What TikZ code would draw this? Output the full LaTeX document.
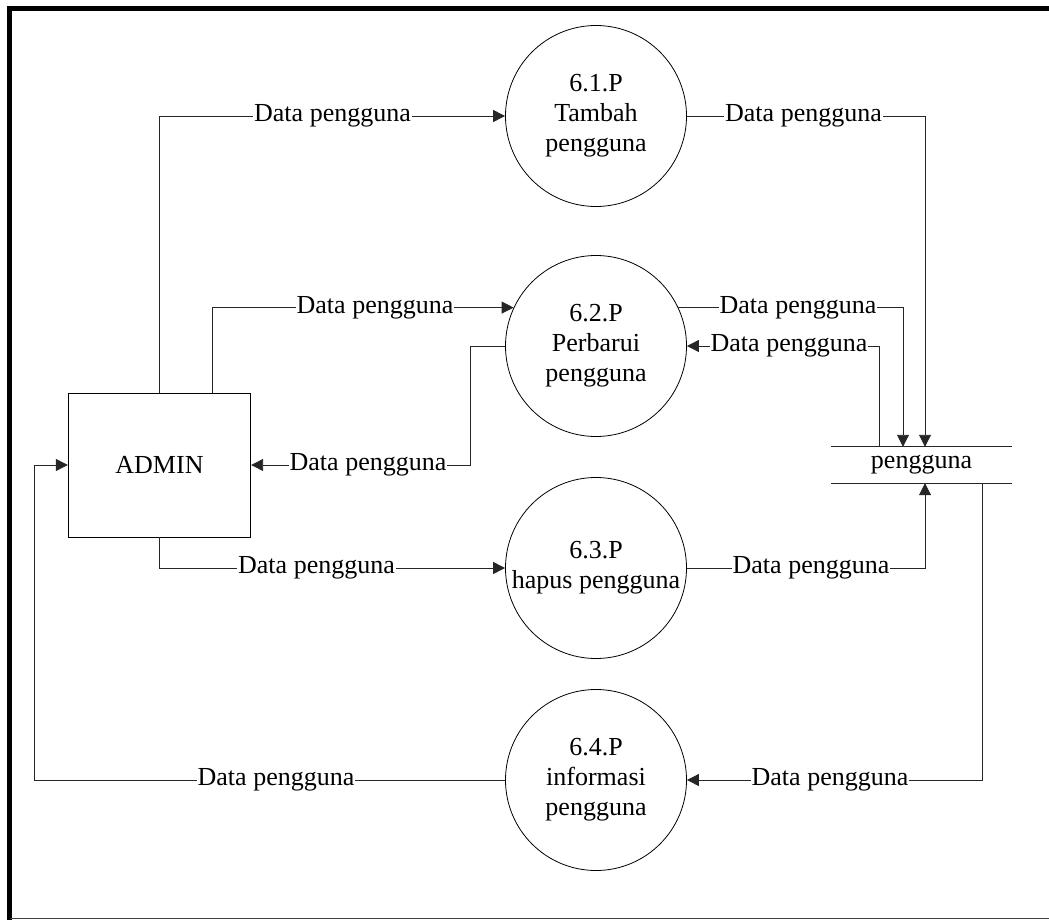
\documentclass[tikz,border=0pt]{standalone}
\usepackage{fontspec}
\setmainfont{Liberation Serif}
\usetikzlibrary{arrows.meta,calc}
\begin{document}
\begin{tikzpicture}[x=1pt,y=-1pt,
  every node/.style={font=\fontsize{26}{30}\selectfont},
  proc/.style={circle,draw,line width=0.8pt,minimum size=181pt,inner sep=0pt,align=center},
  ent/.style={draw,line width=0.8pt,minimum width=182.5pt,minimum height=144pt},
  store/.style={minimum width=181pt,minimum height=36pt,inner sep=0pt},
  link/.style={line width=0.9pt,black!85},
  flow/.style={link,-{Triangle[length=12pt,width=12pt]}},
  lbl/.style={fill=white,inner xsep=1pt,inner ysep=0pt}]
\clip (0,0) rectangle (1049,920);

% outer frame
\draw[line width=5pt,line join=miter] (9.5,930) -- (9.5,8.5) -- (1060,8.5);
\draw[line width=1.5pt,black!75] (9.5,918.5) -- (1060,918.5);

% external entity, processes and data store
\node[ent] (admin) at (159.5,465) {ADMIN};
\node[proc] (p1) at (596,116) {6.1.P\\Tambah\\pengguna};
\node[proc] (p2) at (596,346) {6.2.P\\Perbarui\\pengguna};
\node[proc] (p3) at (596,568) {6.3.P\\hapus pengguna};
\node[proc] (p4) at (596,780) {6.4.P\\informasi\\pengguna};
\node[store] (store) at (921.5,465) {pengguna};
\draw[link] (store.north west) -- (store.north east)
            (store.south west) -- (store.south east);

% data flows
\draw[flow] (admin.north) |- (p1);
\draw[flow] ([xshift=53pt]admin.north) |- (p2.155);
\draw[flow] (p2.west) -- ++(-35,0) |- (admin.east);
\draw[flow] (admin.south) |- (p3);
\draw[flow] (p4.west) -| ($(admin.west)+(-33,0)$) -- (admin.west);
\draw[flow] (p1.east) -| ([xshift=3.5pt]store.north);
\draw[flow] (p2.25) -| ([xshift=-18.5pt]store.north);
\draw[flow] ([xshift=-42pt]store.north) |- (p2.east);
\draw[flow] (p3.east) -| ([xshift=3.5pt]store.south);
\draw[flow] ([xshift=60.5pt]store.south) |- (p4.east);

% flow labels
\node[lbl] (l1) at (332.5,116) {Data pengguna};
\node[lbl] (l2) at (375,308) {Data pengguna};
\node[lbl] (l3) at (368,465) {Data pengguna};
\node[lbl] (l4) at (316.5,568) {Data pengguna};
\node[lbl] (l5) at (276,780) {Data pengguna};
\node[lbl] (l6) at (803.5,116) {Data pengguna};
\node[lbl] (l7) at (798,308) {Data pengguna};
\node[lbl] (l8) at (789,346) {Data pengguna};
\node[lbl] (l9) at (811,568) {Data pengguna};
\node[lbl] (l10) at (830,780) {Data pengguna};
\end{tikzpicture}
\end{document}
